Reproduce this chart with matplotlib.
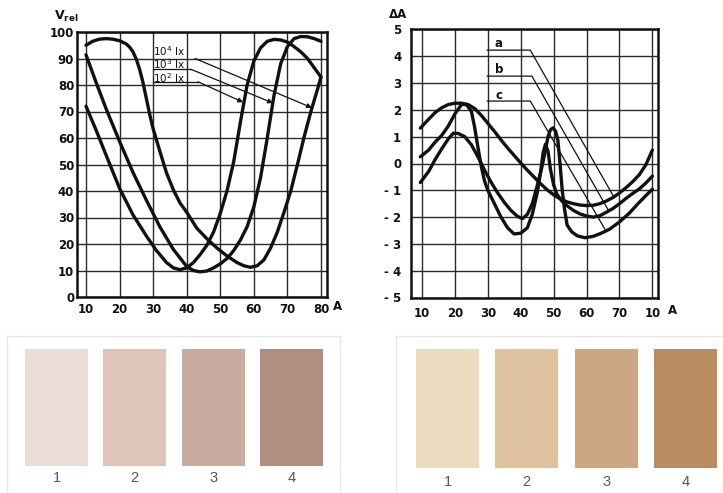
import matplotlib
matplotlib.use("Agg")
import matplotlib.pyplot as plt

# ---------------- data: left chart (V_rel vs A) ----------------
a2_x = [10, 13, 16, 20, 24, 28, 31, 34, 36, 38, 40, 42, 44, 46, 48, 50, 52, 54, 56, 58, 60, 62, 64, 66, 68, 70, 72, 74, 76, 78, 80]
a2_y = [72, 63, 53.5, 41, 31, 23, 17.5, 13, 11, 10.3, 11, 13, 16, 19.5, 24.5, 31.5, 40, 51, 66, 80, 89, 94, 96.5, 97.2, 97, 96.2, 94.5, 92.5, 90, 86.5, 83]

a3_x = [10, 13, 16, 20, 24, 28, 32, 36, 40, 42, 44, 46, 48, 50, 52, 54, 56, 58, 60, 62, 64, 66, 68, 70, 72, 74, 76, 78, 80]
a3_y = [91.4, 81, 71, 58.7, 47, 36.5, 26.5, 18, 11.5, 10, 9.5, 9.8, 11, 12.5, 14.5, 17.5, 21.5, 26.5, 34, 45, 60, 76, 88, 94.5, 97.5, 98.3, 98.2, 97.5, 96.5]

a4_x = [10, 12, 14, 16, 18, 20, 22, 23, 24, 25, 26, 27, 28, 29, 30, 32, 34, 36, 38, 40, 43, 46, 49, 52, 55, 57, 59, 61, 63, 65, 67, 69, 71, 73, 75, 77, 79, 80]
a4_y = [95, 96.5, 97.3, 97.5, 97.3, 96.7, 95.5, 94.3, 92.5, 89.7, 85.8, 80.8, 74.8, 68.8, 63.5, 55, 46.8, 40.5, 35.5, 32, 26, 22, 18.5, 15.5, 13, 11.8, 11.2, 11.8, 14, 18.5, 24.5, 32, 40, 50, 60.5, 70, 78.5, 83]

left_xticks = [10, 20, 30, 40, 50, 60, 70, 80]
left_yticks = [0, 10, 20, 30, 40, 50, 60, 70, 80, 90, 100]
lux_labels = ["$10^4$ lx", "$10^3$ lx", "$10^2$ lx"]
lux_text_y = [92.9, 87.7, 82.7]
# leader lines: underline start, knee, arrow tip
lux_lines = [
    [(42.5, 90.0), (42.5, 90.0), (77.3, 71.4)],
    [(30.0, 85.9), (41.3, 85.9), (65.7, 73.2)],
    [(30.0, 81.2), (43.4, 81.2), (56.8, 73.5)],
]

# ---------------- data: right chart (ΔA vs A) ----------------
ra_x = [9.5, 12, 14, 16, 18, 20, 22, 24, 26, 28, 30, 32, 34, 36, 38, 40, 42, 44, 46, 48, 50, 52, 54, 56, 58, 60, 62, 64, 66, 68, 70, 72, 74, 76, 78, 80]
ra_y = [1.32, 1.65, 1.9, 2.08, 2.2, 2.25, 2.25, 2.2, 2.05, 1.8, 1.5, 1.2, 0.88, 0.58, 0.3, 0.02, -0.25, -0.5, -0.75, -0.98, -1.17, -1.32, -1.43, -1.5, -1.55, -1.57, -1.56, -1.5, -1.4, -1.27, -1.1, -0.9, -0.68, -0.42, -0.05, 0.5]

rb_x = [9.5, 12, 14, 16, 18, 20, 22, 23.5, 25, 26, 27, 28, 29, 30, 32, 34, 36, 38, 40, 42, 43.5, 45, 46, 46.8, 47.5, 48.3, 49, 50, 51, 52.5, 54, 56, 58, 60, 62, 64, 66, 68, 70, 72, 74, 76, 78, 80]
rb_y = [0.25, 0.5, 0.8, 1.05, 1.4, 1.85, 2.2, 2.2, 1.95, 1.35, 0.6, -0.1, -0.65, -1.0, -1.5, -2.0, -2.4, -2.63, -2.6, -2.4, -1.9, -1.1, -0.35, 0.4, 0.72, 0.45, -0.2, -0.8, -1.15, -1.4, -1.57, -1.75, -1.88, -1.96, -2.0, -1.95, -1.82, -1.68, -1.5, -1.3, -1.12, -0.95, -0.73, -0.47]

rc_x = [9.5, 12, 14, 16, 18, 19.5, 21, 23, 25, 27, 29, 31, 33, 35, 37, 39, 40.5, 42, 43.5, 45, 46.5, 47.5, 48.3, 49, 49.8, 50.6, 51.3, 52, 52.6, 53.3, 54.1, 55.5, 57.2, 59.5, 62, 64.3, 67, 70, 73, 76, 78, 80]
rc_y = [-0.71, -0.3, 0.15, 0.55, 0.92, 1.13, 1.12, 1.0, 0.7, 0.25, -0.25, -0.7, -1.1, -1.45, -1.75, -1.97, -2.06, -1.9, -1.5, -0.83, -0.1, 0.5, 1.0, 1.25, 1.33, 1.2, 0.85, -0.1, -1.0, -1.7, -2.3, -2.55, -2.7, -2.77, -2.72, -2.61, -2.45, -2.18, -1.85, -1.45, -1.2, -0.96]

right_xticks = [10, 20, 30, 40, 50, 60, 70, 80]
right_xlabels = ["10", "20", "30", "40", "50", "60", "70", "10"]
right_yticks = [5, 4, 3, 2, 1, 0, -1, -2, -3, -4, -5]
right_ylabels = ["5", "4", "3", "2", "1", "0", "- 1", "- 2", "- 3", "- 4", "- 5"]
abc_labels = ["a", "b", "c"]
abc_text_y = [4.48, 3.5, 2.55]
abc_lines = [
    [(29.8, 4.23), (42.9, 4.23), (68.3, -1.25)],
    [(29.8, 3.26), (43.4, 3.26), (66.8, -1.78)],
    [(29.8, 2.33), (42.9, 2.33), (65.8, -2.5)],
]

# ---------------- data: swatches ----------------
swatch_labels = ["1", "2", "3", "4"]
pink_colors = ["#E9DDD6", "#DFC4BA", "#C8AA9F", "#B18F80"]
tan_colors = ["#EBDBBF", "#DFC2A0", "#CDA783", "#B98D5F"]

W, H = 723, 493
fig = plt.figure(figsize=(W / 100, H / 100), dpi=100)
fig.patch.set_facecolor("white")

def px_axes(x0, y0, x1, y1):
    return fig.add_axes([x0 / W, 1 - y1 / H, (x1 - x0) / W, (y1 - y0) / H])

INK = "#111111"
GRID = "#2a2a2a"
tick_font = dict(fontsize=8.5, fontweight="bold", color=INK)

# ---------- left chart ----------
ax1 = px_axes(77, 32, 327, 297)
ax1.set_xlim(7.32, 81.8)
ax1.set_ylim(0, 100)
ax1.set_xticks(left_xticks)
ax1.set_yticks(left_yticks)
ax1.set_xticklabels([str(v) for v in left_xticks], **tick_font)
ax1.set_yticklabels([str(v) for v in left_yticks], **tick_font)
ax1.tick_params(axis="both", length=0)
ax1.tick_params(axis="x", pad=4)
ax1.tick_params(axis="y", pad=2)
ax1.grid(True, color=GRID, lw=1.0)
ax1.set_axisbelow(True)
for s in ax1.spines.values():
    s.set_linewidth(1.8)
    s.set_color(INK)
for xs, ys in [(a2_x, a2_y), (a3_x, a3_y), (a4_x, a4_y)]:
    ax1.plot(xs, ys, color=INK, lw=2.4, solid_capstyle="round", solid_joinstyle="round", zorder=3)
for lab, ty in zip(lux_labels, lux_text_y):
    ax1.text(30.0, ty, lab, fontsize=7.5, color=INK, va="center", ha="left", zorder=4)
for pts in lux_lines:
    (x0, y0), (xk, yk), (xe, ye) = pts
    ax1.plot([x0, xk], [y0, yk], color=INK, lw=0.9, zorder=4)
    ax1.annotate("", xy=(xe, ye), xytext=(xk, yk),
                 arrowprops=dict(arrowstyle="-|>", lw=0.9, color=INK, mutation_scale=7,
                                 shrinkA=0, shrinkB=0), zorder=4)

fig.text(66 / W, 1 - 16 / H, r"$\mathbf{V_{rel}}$", fontsize=9, ha="center", va="center", color=INK)
fig.text(333 / W, 1 - 306 / H, "A", ha="left", va="center", **tick_font)

# ---------- right chart ----------
ax2 = px_axes(411, 29.5, 658, 297.5)
ax2.set_xlim(6.66, 81.7)
ax2.set_ylim(-5, 5)
ax2.set_xticks(right_xticks)
ax2.set_yticks(right_yticks)
ax2.set_xticklabels(right_xlabels, **tick_font)
ax2.set_yticklabels(right_ylabels, **tick_font)
ax2.tick_params(axis="both", length=0)
ax2.tick_params(axis="x", pad=7)
ax2.tick_params(axis="y", pad=7)
ax2.grid(True, color=GRID, lw=1.0)
ax2.set_axisbelow(True)
for s in ax2.spines.values():
    s.set_linewidth(1.8)
    s.set_color(INK)
for xs, ys in [(ra_x, ra_y), (rb_x, rb_y), (rc_x, rc_y)]:
    ax2.plot(xs, ys, color=INK, lw=2.4, solid_capstyle="round", solid_joinstyle="round", zorder=3)
for lab, ty in zip(abc_labels, abc_text_y):
    ax2.text(33.3, ty, lab, fontsize=8.5, fontweight="bold", color=INK, va="center", ha="center", zorder=4)
for pts in abc_lines:
    xs = [p[0] for p in pts]
    ys = [p[1] for p in pts]
    ax2.plot(xs, ys, color=INK, lw=0.9, zorder=4)

fig.text(398 / W, 1 - 15 / H, "ΔA", ha="center", va="center", **tick_font)
fig.text(668 / W, 1 - 310 / H, "A", ha="left", va="center", **tick_font)

# ---------- swatch panels ----------
def swatch_panel(x0, x1, first_center, step, bar_w, bar_bottom_px, bar_top_px, label_px, colors, right_open):
    ax = px_axes(x0, 336, x1, 493)
    lo = -(493 - bar_bottom_px) / (bar_bottom_px - bar_top_px)
    hi = 1 + (bar_top_px - 336) / (bar_bottom_px - bar_top_px)
    ax.set_ylim(lo, hi)
    ax.set_xlim((x0 - first_center) / step, (x1 - first_center) / step)
    idx = list(range(len(swatch_labels)))
    ax.bar(idx, [1] * len(idx), width=bar_w / step, bottom=0, color=colors, edgecolor="none")
    ly = -(label_px - bar_bottom_px) / (bar_bottom_px - bar_top_px)
    for i, lab in zip(idx, swatch_labels):
        ax.text(i, ly, lab, ha="center", va="center", fontsize=10.5, color="#555555",
                family="Liberation Sans")
    ax.set_xticks([])
    ax.set_yticks([])
    for name, s in ax.spines.items():
        s.set_color("#e6e6e6")
        s.set_linewidth(1.0)
    ax.spines["bottom"].set_visible(False)
    if right_open:
        ax.spines["right"].set_visible(False)
    return ax

swatch_panel(7, 340, 56.5, 78.3, 63, 466, 349, 478, pink_colors, False)
swatch_panel(396, 723, 447.5, 79.3, 63, 468, 349, 482, tan_colors, True)

fig.savefig("out.png", dpi=100)
